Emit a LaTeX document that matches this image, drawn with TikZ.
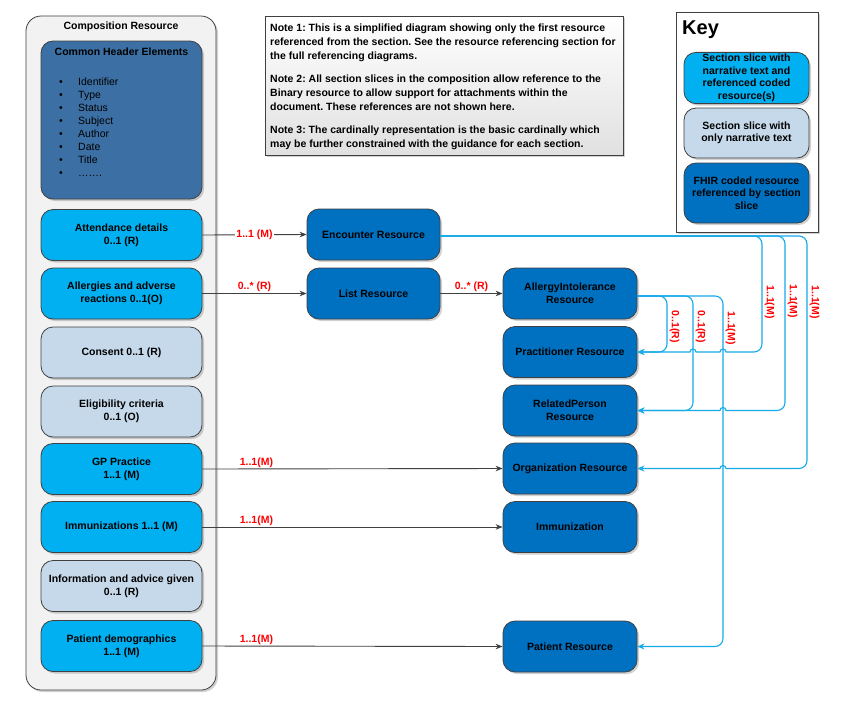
\documentclass[tikz,border=0pt]{standalone}
\usepackage{fontspec}
\setmainfont{Liberation Sans}
\usetikzlibrary{arrows.meta,shadows}
\definecolor{secblue}{RGB}{0,176,240}
\definecolor{secgrey}{RGB}{198,217,234}
\definecolor{resblue}{RGB}{0,112,192}
\definecolor{hdrblue}{RGB}{60,112,164}
\definecolor{contgrey}{RGB}{242,242,242}
\definecolor{edgegrey}{RGB}{64,64,64}
\definecolor{linkblue}{RGB}{20,170,235}
\definecolor{cardred}{RGB}{255,0,0}
\frenchspacing
\begin{document}
\begin{tikzpicture}[x=1pt,y=-1pt,
  shad/.style={drop shadow={shadow xshift=2pt,shadow yshift=-2pt,opacity=0.18,fill=black}},
  base/.style={draw=edgegrey, line width=0.8pt, rounded corners=12pt, align=center, text=black,
    font=\fontsize{10.5}{13}\selectfont\bfseries, inner sep=2pt, shad},
  secA/.style={base, fill=secblue, minimum width=161pt, minimum height=51pt},
  secB/.style={base, fill=secgrey, minimum width=161pt, minimum height=51pt},
  res/.style={base, fill=resblue, minimum width=134pt, minimum height=51pt},
  conn/.style={draw=edgegrey, line width=0.9pt, -{Stealth[length=7pt,width=5.5pt]}},
  link/.style={draw=linkblue, line width=1.1pt, -{Stealth[length=7pt,width=6pt]}},
  card/.style={text=cardred, font=\fontsize{10.5}{12}\selectfont\bfseries, inner sep=1pt},
  vcard/.style={card, rotate=-90, anchor=south},
  btext/.style={font=\fontsize{10.5}{13}\selectfont\bfseries, inner sep=0pt}
]
\fill[white] (0,0) rectangle (845,718);
\useasboundingbox (0,0) rectangle (845,718);

% Composition container
\node[draw=edgegrey, line width=0.8pt, fill=contgrey, rounded corners=15pt,
  minimum width=190pt, minimum height=674pt, shad] (comp) at (121,353) {};
\node[btext] (comptitle) at (121,27) {Composition Resource};

% Header
\node[base, fill=hdrblue, minimum width=161pt, minimum height=158pt] (hdr) at (121.5,120) {};
\node[btext] (hdrtitle) at (121.5,52) {Common Header Elements};
\node[anchor=north west, align=left, font=\fontsize{10.5}{13}\selectfont, inner sep=0pt] (hdrlist) at (59,77.5)
 {\makebox[19pt][l]{\textbullet}Identifier\\
  \makebox[19pt][l]{\textbullet}Type\\
  \makebox[19pt][l]{\textbullet}Status\\
  \makebox[19pt][l]{\textbullet}Subject\\
  \makebox[19pt][l]{\textbullet}Author\\
  \makebox[19pt][l]{\textbullet}Date\\
  \makebox[19pt][l]{\textbullet}Title\\
  \makebox[19pt][l]{\textbullet}…….};

% Sections
\node[secA] (att) at (121.5,235) {Attendance details\\0..1 (R)};
\node[secA] (all) at (121.5,293.5) {Allergies and adverse\\reactions 0..1(O)};
\node[secB] (con) at (121.5,352.5) {Consent 0..1 (R)};
\node[secB] (eli) at (121.5,411.5) {Eligibility criteria\\0..1 (O)};
\node[secA] (gp) at (121.5,469) {GP Practice\\1..1 (M)};
\node[secA] (imms) at (121.5,527) {Immunizations 1..1 (M)};
\node[secB] (inf) at (121.5,586) {Information and advice given\\0..1 (R)};
\node[secA] (pats) at (121.5,646) {Patient demographics\\1..1 (M)};

% Resources
\node[res, minimum width=133pt] (enc) at (373.5,234.5) {Encounter Resource};
\node[res, minimum width=133pt] (list) at (373.5,293.5) {List Resource};
\node[res] (ai) at (570,293.5) {AllergyIntolerance\\Resource};
\node[res] (prac) at (570,352) {Practitioner Resource};
\node[res] (rp) at (570,410.5) {RelatedPerson\\Resource};
\node[res] (org) at (570,468.5) {Organization Resource};
\node[res] (immr) at (570,527) {Immunization};
\node[res] (patr) at (570,646.5) {Patient Resource};

% Note box
\node[draw=edgegrey, line width=0.8pt, top color=white, bottom color=black!12,
  minimum width=358pt, minimum height=139pt, shad] (notebox) at (444,85.5) {};
\node[anchor=north west, align=left, font=\fontsize{10.5}{14}\selectfont\bfseries, inner sep=0pt] (notetext) at (270,23.5)
 {Note 1: This is a simplified diagram showing only the first resource\\
  referenced from the section. See the resource referencing section for\\
  the full referencing diagrams.\\[9pt]
  Note 2: All section slices in the composition allow reference to the\\
  Binary resource to allow support for attachments within the\\
  document. These references are not shown here.\\[9pt]
  Note 3: The cardinally representation is the basic cardinally which\\
  may be further constrained with the guidance for each section.};

% Key
\node[draw=edgegrey, line width=0.8pt, fill=white, minimum width=142pt, minimum height=220pt, shad] (keybox) at (747,122) {};
\node[anchor=west, font=\fontsize{20}{22}\selectfont\bfseries, inner sep=0pt] (keytitle) at (682,29.5) {Key};
\node[base, fill=secblue, minimum width=125pt, minimum height=50pt, font=\fontsize{10.5}{12.5}\selectfont\bfseries] (k1) at (746.5,78) {Section slice with\\narrative text and\\referenced coded\\resource(s)};
\node[base, fill=secgrey, minimum width=125pt, minimum height=50pt, font=\fontsize{10.5}{12.5}\selectfont\bfseries] (k2) at (746.5,133) {Section slice with\\only narrative text};
\node[base, fill=resblue, minimum width=125pt, minimum height=60pt, font=\fontsize{10.5}{12.5}\selectfont\bfseries] (k3) at (746.5,193) {FHIR coded resource\\referenced by section\\slice};

% Dark connectors
\draw[conn] (att.east) -- node[card, fill=white] (l1) {1..1 (M)} (enc.west);
\draw[conn] (all.east) -- node[card, above] (l2) {0..* (R)} (list.west);
\draw[conn] (list.east) -- node[card, above] (l3) {0..* (R)} (ai.west);
\draw[conn] (gp.east) -- node[card, above, pos=0.18] (l4) {1..1(M)} (org.west);
\draw[conn] (imms.east) -- node[card, above, pos=0.18] (l5) {1..1(M)} (immr.west);
\draw[conn] (pats.east) -- node[card, above, pos=0.18] (l6) {1..1(M)} (patr.west);

% Blue connectors
\draw[link] ([yshift=-1.5pt]enc.east) -- (754,236) arc[start angle=90,end angle=0,radius=8pt]
  -- (762,344) arc[start angle=0,end angle=-90,radius=8pt]
  -- (726,352) arc[start angle=0,end angle=180,radius=3pt]
  -- (696,352) arc[start angle=0,end angle=180,radius=3pt] -- (prac.east);
\draw[link] ([yshift=-1.5pt]enc.east) -- (777,236) arc[start angle=90,end angle=0,radius=8pt]
  -- (785,402.5) arc[start angle=0,end angle=-90,radius=8pt]
  -- (726,410.5) arc[start angle=0,end angle=180,radius=3pt] -- (rp.east);
\draw[link] ([yshift=-1.5pt]enc.east) -- (799,236) arc[start angle=90,end angle=0,radius=8pt]
  -- (807,460.5) arc[start angle=0,end angle=-90,radius=8pt]
  -- (726,468.5) arc[start angle=0,end angle=180,radius=3pt] -- (org.east);
\draw[link] ([yshift=-2.5pt]ai.east) -- (659,296) arc[start angle=90,end angle=0,radius=8pt]
  -- (667,344) arc[start angle=0,end angle=-90,radius=8pt] -- (prac.east);
\draw[link] ([yshift=-2.5pt]ai.east) -- (685,296) arc[start angle=90,end angle=0,radius=8pt]
  -- (693,402.5) arc[start angle=0,end angle=-90,radius=8pt] -- (rp.east);
\draw[link] ([yshift=-2.5pt]ai.east) -- (715,296) arc[start angle=90,end angle=0,radius=8pt]
  -- (723,638.5) arc[start angle=0,end angle=-90,radius=8pt] -- (patr.east);

% Vertical cardinality labels
\node[vcard] (v1) at (763.5,302) {1..1(M)};
\node[vcard] (v2) at (786.5,301) {1..1(M)};
\node[vcard] (v3) at (808.5,302) {1..1(M)};
\node[vcard] (v4) at (668.5,327) {0..1(R)};
\node[vcard] (v5) at (694.5,327) {0..1(R)};
\node[vcard] (v6) at (724.5,328) {1..1(M)};
\end{tikzpicture}
\end{document}
